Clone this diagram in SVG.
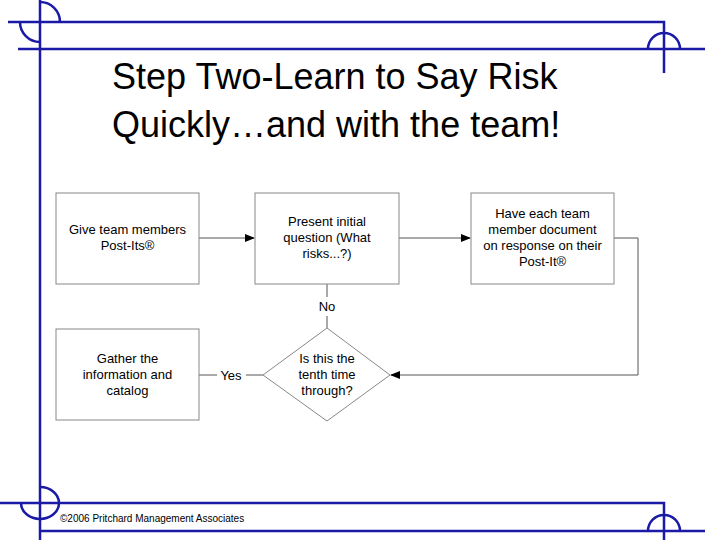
<svg xmlns="http://www.w3.org/2000/svg" width="720" height="540" viewBox="0 0 720 540">
<style>
.deco{stroke:#1a1aa6;stroke-width:2.5;fill:none}
.box{fill:#fff;stroke:#888;stroke-width:1}
.ln{stroke:#555;stroke-width:1;fill:none}
.t{font-family:"Liberation Sans",Arial,sans-serif;font-size:13px;fill:#000;text-anchor:middle}
.ti{font-family:"Liberation Sans",Arial,sans-serif;font-size:36px;fill:#000}
</style>
<defs><marker id="a" markerWidth="10" markerHeight="8" refX="9" refY="4" orient="auto" markerUnits="userSpaceOnUse"><path d="M0,0L10,4L0,8z" fill="#000"/></marker></defs>
<rect width="720" height="540" fill="#fff"/>
<g id="decor" class="deco">
<path d="M8,22H664V73"/><path d="M18,49H705"/><path d="M40,0V540"/>
<path d="M40,2A20,20 0 0 1 60,22"/>
<path d="M20,22A20,20 0 0 0 40,42"/>
<path d="M648,49A16,16 0 0 1 680,49"/>
<path d="M0,503H664V540"/><path d="M40,531H705"/>
<path d="M40,487A19,16 0 0 1 40,519A19,16 0 0 1 21,503"/>
<path d="M648,531A16,16 0 0 1 680,531"/>
</g>
<text class="ti" x="112" y="89">Step Two-Learn to Say Risk</text>
<text class="ti" x="112" y="137">Quickly…and with the team!</text>
<g id="connectors">
<path class="ln" d="M199,238H254" marker-end="url(#a)"/>
<path class="ln" d="M399,238H470" marker-end="url(#a)"/>
<path class="ln" d="M614,238H638V375H391" marker-end="url(#a)"/>
<path class="ln" d="M327,284V297M327,316V328" stroke="#aaa"/>
<path class="ln" d="M199,375H217M246,375H263"/>
<text class="t" x="327" y="311">No</text>
<text class="t" x="231" y="380">Yes</text>
</g>
<g id="n1"><rect class="box" x="56" y="193" width="143" height="91"/><text class="t" x="127.5" y="234">Give team members</text><text class="t" x="127.5" y="250">Post-Its®</text></g>
<g id="n2"><rect class="box" x="255" y="193" width="144" height="91"/><text class="t" x="327" y="226">Present initial</text><text class="t" x="327" y="242">question (What</text><text class="t" x="327" y="258">risks...?)</text></g>
<g id="n3"><rect class="box" x="471" y="193" width="143" height="91"/><text class="t" x="542.5" y="218">Have each team</text><text class="t" x="542.5" y="234">member document</text><text class="t" x="542.5" y="250">on response on their</text><text class="t" x="542.5" y="266">Post-It®</text></g>
<g id="n4"><rect class="box" x="56" y="329" width="143" height="91"/><text class="t" x="127.5" y="363">Gather the</text><text class="t" x="127.5" y="379">information and</text><text class="t" x="127.5" y="395">catalog</text></g>
<g id="n5"><path class="box" d="M327,328L390,375L327,421L263,375Z"/><text class="t" x="327" y="363">Is this the</text><text class="t" x="327" y="379">tenth time</text><text class="t" x="327" y="395">through?</text></g>
<text x="60" y="522" font-family="'Liberation Sans',Arial,sans-serif" font-size="10" fill="#000">©2006 Pritchard Management Associates</text>
</svg>
